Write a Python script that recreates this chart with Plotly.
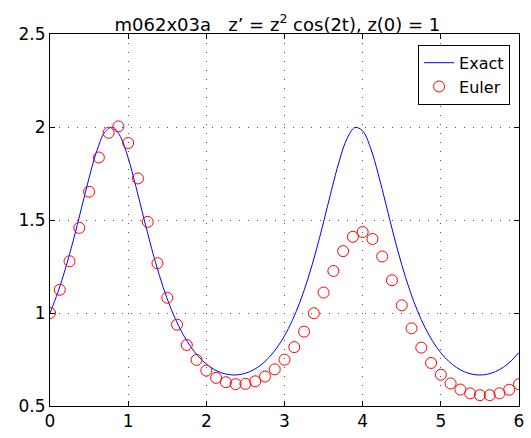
import plotly.graph_objects as go

t_exact = [round(0.1 * i, 1) for i in range(61)]
z_exact = [1.0000, 1.1103, 1.2418, 1.3934, 1.5593, 1.7263, 1.8727, 1.9713, 1.9992, 1.9490,
           1.8337, 1.6786, 1.5100, 1.3473, 1.2012, 1.0759, 0.9716, 0.8867, 0.8188, 0.7657,
           0.7255, 0.6965, 0.6776, 0.6681, 0.6675, 0.6759, 0.6936, 0.7213, 0.7601, 0.8115,
           0.8774, 0.9601, 1.0619, 1.1845, 1.3281, 1.4892, 1.6579, 1.8161, 1.9378, 1.9971,
           1.9789, 1.8881, 1.7461, 1.5803, 1.4133, 1.2595, 1.1254, 1.0125, 0.9198, 0.8451,
           0.7862, 0.7408, 0.7073, 0.6843, 0.6709, 0.6667, 0.6713, 0.6851, 0.7085, 0.7425,
           0.7885]

# Euler markers, step 0.125
t_euler = [0.125 * i for i in range(49)]
z_euler = [1.0000, 1.1250, 1.2783, 1.4575, 1.6518, 1.8361, 1.9690, 2.0033, 1.9139, 1.7233,
           1.4901, 1.2678, 1.0821, 0.9372, 0.8280, 0.7478, 0.6904, 0.6515, 0.6278, 0.6174,
           0.6192, 0.6328, 0.6584, 0.6969, 0.7491, 0.8165, 0.8998, 0.9986, 1.1099, 1.2260,
           1.3327, 1.4097, 1.4355, 1.3981, 1.3039, 1.1759, 1.0410, 0.9176, 0.8139, 0.7313,
           0.6680, 0.6212, 0.5885, 0.5679, 0.5581, 0.5583, 0.5681, 0.5876, 0.6171]

x_ticks = [0, 1, 2, 3, 4, 5, 6]
y_ticks = [0.5, 1, 1.5, 2, 2.5]

font_family = "DejaVu Sans, Arial, sans-serif"

fig = go.Figure()
fig.add_trace(go.Scatter(x=t_exact, y=z_exact, mode="lines", name="Exact",
                         line=dict(color="#0000ff", width=1, shape="spline")))
fig.add_trace(go.Scatter(x=t_euler, y=z_euler, mode="markers", name="Euler",
                         marker=dict(symbol="circle-open", size=11,
                                     color="#ff0000", line=dict(width=1, color="#ff0000"))))

axis_common = dict(showline=True, linecolor="black", linewidth=1, mirror="ticks",
                   ticks="inside", ticklen=5, tickcolor="black",
                   showgrid=True, gridcolor="#555555", gridwidth=1, griddash="1px,8px",
                   zeroline=False, tickfont=dict(size=17, color="black", family=font_family))

fig.update_xaxes(range=[0, 6], tickvals=x_ticks, **axis_common)
fig.update_yaxes(range=[0.5, 2.5], tickvals=y_ticks, **axis_common)

fig.update_layout(
    width=531, height=438,
    margin=dict(l=50, r=7, t=34, b=29),
    paper_bgcolor="white", plot_bgcolor="white",
    font=dict(family=font_family, size=17, color="black"),
    title=dict(text="m062x03a   z’ = z<sup>2</sup> cos(2t), z(0) = 1",
               x=0.485, xref="paper", xanchor="center",
               y=1, yref="paper", yanchor="bottom", pad=dict(b=3),
               font=dict(size=18, family=font_family, color="black")),
    legend=dict(x=0.981, y=0.971, xanchor="right", yanchor="top",
                bgcolor="white", bordercolor="black", borderwidth=1,
                font=dict(size=16, family=font_family, color="black"),
                tracegroupgap=0),
    showlegend=True,
)

fig.write_html("out.html")
